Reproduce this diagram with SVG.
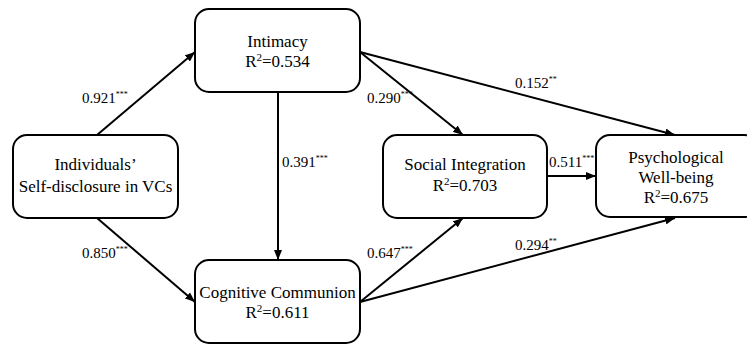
<svg xmlns="http://www.w3.org/2000/svg" width="747" height="344" viewBox="0 0 747 344">
<defs>
<marker id="ah" viewBox="0 0 10 8" refX="10" refY="4" markerWidth="10" markerHeight="8" markerUnits="userSpaceOnUse" orient="auto">
<path d="M0,0 L10,4 L0,8 Z" fill="#000"/>
</marker>
<style>
.box{fill:#fff;stroke:#000;stroke-width:2}
text{font-family:'Liberation Serif',serif}
.t{font-size:17px;fill:#000;text-anchor:middle}
.l{font-size:15px;fill:#000}
.s{font-size:8px}
.c{stroke:#000;stroke-width:2;fill:none;marker-end:url(#ah)}
</style>
</defs>
<rect width="747" height="344" fill="#fff"/>
<g id="connectors">
<line class="c" x1="97" y1="135" x2="195" y2="52"/>
<line class="c" x1="97" y1="218" x2="195" y2="302"/>
<line class="c" x1="278" y1="92" x2="278" y2="260"/>
<line class="c" x1="360" y1="52" x2="463" y2="135"/>
<line class="c" x1="360" y1="52" x2="675" y2="135"/>
<line class="c" x1="547" y1="176" x2="596" y2="176"/>
<line class="c" x1="360" y1="302" x2="463" y2="218"/>
<line class="c" x1="360" y1="302" x2="675" y2="218"/>
<text class="l" font-family="Liberation Serif" x="82" y="103">0.921<tspan class="s" dy="-6">***</tspan></text>
<text class="l" font-family="Liberation Serif" x="82" y="258">0.850<tspan class="s" dy="-6">***</tspan></text>
<text class="l" font-family="Liberation Serif" x="282" y="167">0.391<tspan class="s" dy="-6">***</tspan></text>
<text class="l" font-family="Liberation Serif" x="367" y="103">0.290<tspan class="s" dy="-6">***</tspan></text>
<text class="l" font-family="Liberation Serif" x="515" y="88">0.152<tspan class="s" dy="-6">**</tspan></text>
<text class="l" font-family="Liberation Serif" x="549" y="167">0.511<tspan class="s" dy="-6">***</tspan></text>
<text class="l" font-family="Liberation Serif" x="367" y="258">0.647<tspan class="s" dy="-6">***</tspan></text>
<text class="l" font-family="Liberation Serif" x="515" y="250">0.294<tspan class="s" dy="-6">**</tspan></text>
</g>
<g id="intimacy">
<rect class="box" x="195" y="9" width="165" height="83" rx="14"/>
<text class="t" font-family="Liberation Serif" x="277.5" y="47">Intimacy</text>
<text class="t" font-family="Liberation Serif" x="277.5" y="67">R<tspan font-size="11" dy="-6">2</tspan><tspan dy="6">=0.534</tspan></text>
</g>
<g id="individuals">
<rect class="box" x="13" y="135" width="165" height="83" rx="14"/>
<text class="t" font-family="Liberation Serif" x="95.5" y="170">Individuals’</text>
<text class="t" font-family="Liberation Serif" x="95.5" y="192">Self-disclosure in VCs</text>
</g>
<g id="cognitive">
<rect class="box" x="195" y="260" width="165" height="83" rx="14"/>
<text class="t" font-family="Liberation Serif" x="277.5" y="298">Cognitive Communion</text>
<text class="t" font-family="Liberation Serif" x="277.5" y="318">R<tspan font-size="11" dy="-6">2</tspan><tspan dy="6">=0.611</tspan></text>
</g>
<g id="social">
<rect class="box" x="383" y="135" width="164" height="83" rx="14"/>
<text class="t" font-family="Liberation Serif" x="465" y="170">Social Integration</text>
<text class="t" font-family="Liberation Serif" x="465" y="191">R<tspan font-size="11" dy="-6">2</tspan><tspan dy="6">=0.703</tspan></text>
</g>
<g id="psych">
<rect class="box" x="596" y="135" width="162" height="82" rx="14"/>
<text class="t" font-family="Liberation Serif" x="676" y="163">Psychological</text>
<text class="t" font-family="Liberation Serif" x="676" y="183">Well-being</text>
<text class="t" font-family="Liberation Serif" x="676" y="203">R<tspan font-size="11" dy="-6">2</tspan><tspan dy="6">=0.675</tspan></text>
</g>
</svg>
